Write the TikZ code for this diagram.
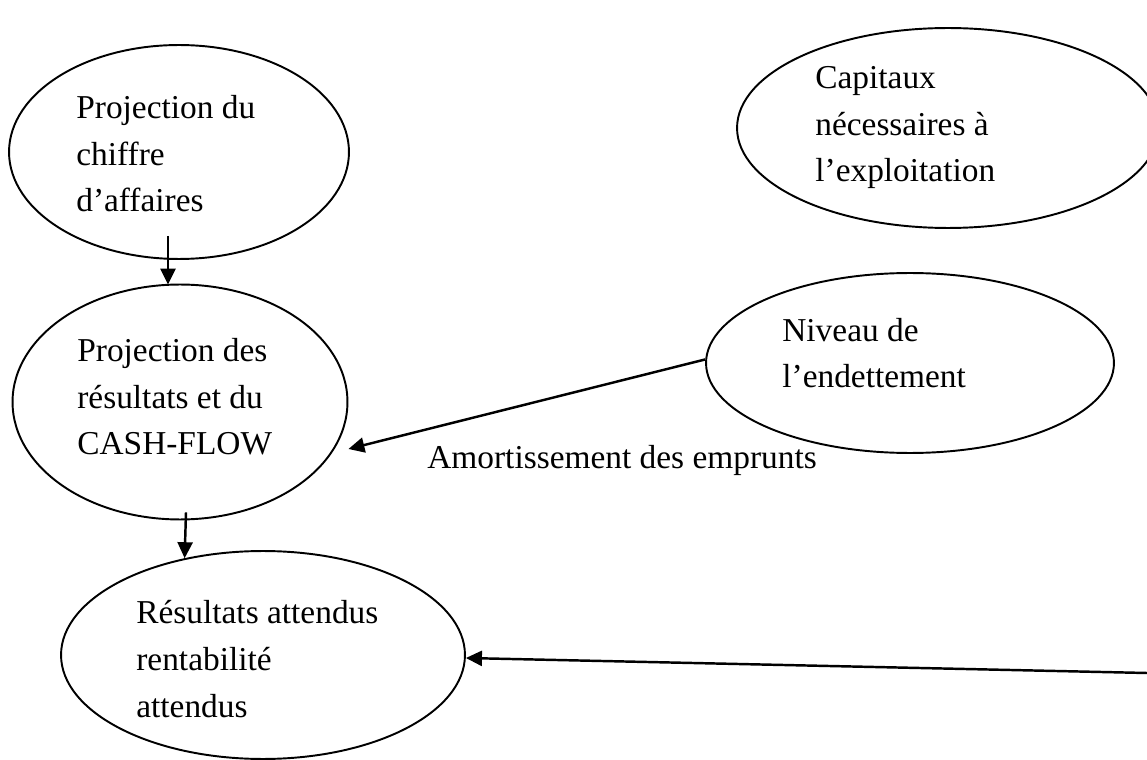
\documentclass[tikz,border=0pt]{standalone}
\usepackage{fontspec}
\setmainfont{Liberation Serif}
\usetikzlibrary{arrows.meta, shapes.geometric}

\begin{document}
\begin{tikzpicture}[x=0.02cm, y=-0.02cm,
  bulle/.style={ellipse, draw, line width=1.1pt, inner sep=0pt},
  texte/.style={font=\fontsize{19}{26.7}\selectfont, align=left, inner sep=0pt, anchor=base west},
  fleche/.style={-{Triangle[length=0.32cm, width=0.3cm]}, line width=1.4pt}]
  \path[use as bounding box, clip] (0,0) rectangle (1147,760);
  \fill[white] (0,0) rectangle (1147,760);

  % Ellipses
  \node[bulle, minimum width=6.8cm, minimum height=4.28cm] (ca) at (179,152) {};
  \node[bulle, minimum width=8.44cm, minimum height=4cm] (cap) at (948,128) {};
  \node[bulle, minimum width=6.7cm, minimum height=4.7cm] (proj) at (180,402) {};
  \node[bulle, minimum width=8.16cm, minimum height=3.6cm] (niv) at (910,363) {};
  \node[bulle, minimum width=8.08cm, minimum height=4.16cm] (res) at (263,655) {};

  % Textes (base = derniere ligne)
  \node[texte] (ca-txt) at (76,212) {Projection du\\chiffre\\d’affaires};
  \node[texte] (cap-txt) at (815,182) {Capitaux\\nécessaires à\\l’exploitation};
  \node[texte] (proj-txt) at (77,455) {Projection des\\résultats et du\\CASH-FLOW};
  \node[texte] (niv-txt) at (782,388) {Niveau de\\l’endettement};
  \node[texte] (res-txt) at (136,717) {Résultats attendus\\rentabilité\\attendus};

  % Fleches
  \draw[fleche] ([shift={(-11,-24)}]ca.south) -- ([shift={(-12,1)}]proj.north);
  \draw[fleche] ([shift={(6,-8)}]proj.south) -- (res.129);
  \draw[fleche] (niv.179) -- ([shift={(0,47)}]proj.east);
  \node[texte] (amort) at (427,468) {Amortissement des emprunts};
  \coordinate (bord) at (1147,673);
  \draw[fleche] (bord) -- ([shift={(0,3)}]res.east);
\end{tikzpicture}
\end{document}
